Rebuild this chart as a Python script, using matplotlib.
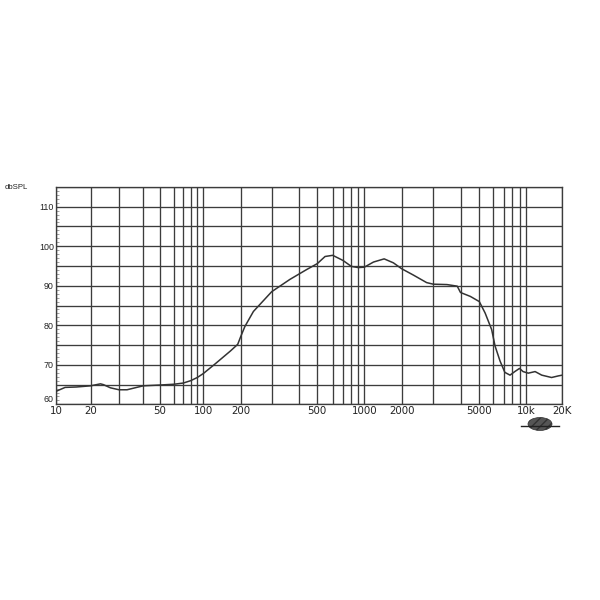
import numpy as np
import matplotlib
matplotlib.use('Agg')
from matplotlib import pyplot as plt
from matplotlib import patches, lines
from matplotlib.ticker import FixedLocator, MultipleLocator, FuncFormatter

# Response curve (Hz, dB SPL)
freqHz = [10, 12, 15, 20, 23, 24, 26.5, 30, 33, 37, 40, 50, 60, 70, 80, 90, 100,
          124, 165, 189, 200, 211, 236, 300, 364, 440, 500, 548, 600, 700, 800,
          900, 1000, 1186, 1445, 1714, 2000, 2324, 2754, 3000, 3467, 3864, 4000,
          4498, 5000, 5395, 5875, 6150, 6607, 7100, 7740, 8360, 9000, 9530,
          10450, 11900, 13500, 16300, 18500, 20000]
splDb = [63.3, 64.3, 64.4, 64.7, 65.2, 65.0, 64.2, 63.7, 63.7, 64.3, 64.7, 64.9,
         65.1, 65.4, 66.0, 66.8, 67.8,
         70.2, 73.5, 75.2, 77.2, 79.7, 83.5, 88.5, 91.6, 94.1, 95.6, 97.4, 97.7,
         96.4, 94.9, 94.6, 94.7, 96.0, 96.8, 95.8, 94.3, 92.7, 90.8, 90.4, 90.3,
         89.9, 88.3, 87.3, 86.0, 83.1, 78.9, 74.8, 71.0, 68.1, 67.4, 68.3, 69.1,
         68.3, 67.9, 68.3, 67.4, 66.8, 67.2, 67.4]

# Axis labels
xLabelFreqs = [10, 20, 50, 100, 200, 500, 1000, 2000, 5000, 10000, 20000]
xLabelText = ['10', '20', '50', '100', '200', '500', '1000', '2000', '5000', '10k', '20K']
yLabelValues = [60, 70, 80, 90, 100, 110]

# Vertical lines of the chart paper (not quite log spaced on the printed sheet)
gridFreqs = [10, 20, 30, 40, 50, 60, 70, 80, 90,
             100, 200, 300, 400, 500, 600, 700, 800, 900,
             1000, 2000, 3000, 4000, 5000, 6000, 7000, 8000, 9000,
             10000, 20000]
paperPos = [56, 90.7, 119, 143.3, 160, 174, 183.3, 190.7, 197.3,
            203.3, 240.8, 271.7, 298.7, 317.3, 332.7, 343, 351.3, 358.3,
            364.3, 401.7, 433.3, 460.5, 479.3, 493.3, 504, 512, 519.5,
            526, 562.3]
logGrid = np.log10(gridFreqs)


def paperFwd(f):
    f = np.clip(np.asarray(f, dtype=float), 1e-3, None)
    return np.interp(np.log10(f), logGrid, paperPos)


def paperInv(p):
    return 10 ** np.interp(np.asarray(p, dtype=float), paperPos, logGrid)


inkColor = '#3c3c3c'

fig = plt.figure(figsize=(6, 6), dpi=100)
ax = fig.add_axes([56 / 600, 1 - 404.4 / 600, 506.3 / 600, 217.5 / 600])

ax.set_xscale('function', functions=(paperFwd, paperInv))
ax.set_xlim(10, 20000)
ax.set_ylim(60, 115)

ax.plot(freqHz, splDb, color='#333333', lw=1.1, zorder=3)

# grid: every paper line on x, every 5 dB on y
ax.xaxis.set_major_locator(FixedLocator(gridFreqs))
labelMap = dict(zip(xLabelFreqs, xLabelText))
ax.xaxis.set_major_formatter(FuncFormatter(lambda v, p: labelMap.get(int(round(v)), '')))
ax.xaxis.set_minor_locator(FixedLocator([]))
ax.yaxis.set_major_locator(MultipleLocator(5))
ax.yaxis.set_major_formatter(FuncFormatter(lambda v, p: '%d' % v if int(round(v)) in yLabelValues else ''))
ax.yaxis.set_minor_locator(MultipleLocator(1))
ax.grid(True, which='major', color=inkColor, lw=0.95)

ax.tick_params(axis='x', which='both', length=0, pad=1.5, labelsize=7.4, colors='#222222')
ax.tick_params(axis='y', which='major', direction='in', length=3, width=0.6,
               pad=1.5, labelsize=6.4, colors=inkColor, labelcolor='#222222')
ax.tick_params(axis='y', which='minor', direction='in', length=2.5, width=0.5, colors='#777777')

for s in ax.spines.values():
    s.set_color(inkColor)
    s.set_linewidth(0.95)

fig.canvas.draw()
for lbl in ax.get_xticklabels():
    lbl.set_family('DejaVu Sans')
for lbl in ax.get_yticklabels():
    lbl.set_family('Liberation Sans')
    # bottom label sits a little above the frame, clear of the "10"
    if lbl.get_text() == '60':
        lbl.set_verticalalignment('bottom')

fig.text(5 / 600, 1 - 187.7 / 600, 'dbSPL', fontsize=5.6, family='Liberation Sans',
         color='#222222', va='center', ha='left')

# small maker's logo under the 10k-20K labels
fig.add_artist(patches.Ellipse((540 / 600, 1 - 424 / 600), 24 / 600, 13 / 600,
                               facecolor='#555555', edgecolor='#333333', lw=0.5, hatch='////'))
fig.add_artist(lines.Line2D([521 / 600, 559 / 600], [1 - 426 / 600, 1 - 426 / 600],
                            color='#222222', lw=1.0))

fig.savefig('out.png', dpi=100, facecolor='white')
